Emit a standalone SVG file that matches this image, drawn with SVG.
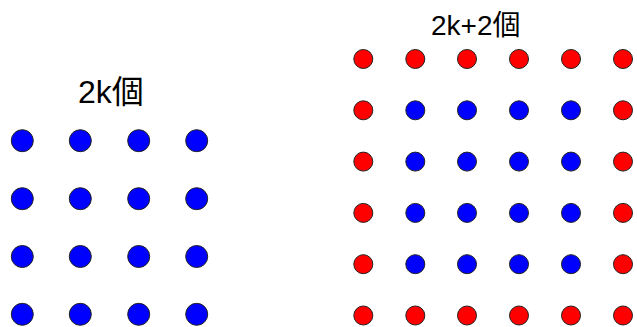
<svg xmlns="http://www.w3.org/2000/svg" width="637" height="327" viewBox="0 0 637 327">
<style>
.b{fill:#0000ff;stroke:#222;stroke-width:1}
.r{fill:#ff0000;stroke:#222;stroke-width:1}
.t{font-family:"Liberation Sans","Noto Sans CJK JP",sans-serif;fill:#000}
</style>
<rect width="637" height="327" fill="#fff"/>
<g id="label-left"><text class="t" x="78" y="103" font-size="32">2k個</text></g>
<g id="label-right"><text class="t" x="431" y="35" font-size="28">2k+2個</text></g>
<g id="left-grid">
<circle class="b" cx="22.3" cy="140.7" r="11"/><circle class="b" cx="80.3" cy="140.7" r="11"/><circle class="b" cx="138.7" cy="140.7" r="11"/><circle class="b" cx="196.7" cy="140.7" r="11"/>
<circle class="b" cx="22.3" cy="198.7" r="11"/><circle class="b" cx="80.3" cy="198.7" r="11"/><circle class="b" cx="138.7" cy="198.7" r="11"/><circle class="b" cx="196.7" cy="198.7" r="11"/>
<circle class="b" cx="22.3" cy="256.5" r="11"/><circle class="b" cx="80.3" cy="256.5" r="11"/><circle class="b" cx="138.7" cy="256.5" r="11"/><circle class="b" cx="196.7" cy="256.5" r="11"/>
<circle class="b" cx="22.3" cy="314.3" r="11"/><circle class="b" cx="80.3" cy="314.3" r="11"/><circle class="b" cx="138.7" cy="314.3" r="11"/><circle class="b" cx="196.7" cy="314.3" r="11"/>
</g>
<g id="right-grid">
<circle class="r" cx="363.3" cy="59" r="9.5"/><circle class="r" cx="415.3" cy="59" r="9.5"/><circle class="r" cx="467" cy="59" r="9.5"/><circle class="r" cx="519" cy="59" r="9.5"/><circle class="r" cx="571" cy="59" r="9.5"/><circle class="r" cx="623" cy="59" r="9.5"/>
<circle class="r" cx="363.3" cy="110.3" r="9.5"/><circle class="b" cx="415.3" cy="110.3" r="9.5"/><circle class="b" cx="467" cy="110.3" r="9.5"/><circle class="b" cx="519" cy="110.3" r="9.5"/><circle class="b" cx="571" cy="110.3" r="9.5"/><circle class="r" cx="623" cy="110.3" r="9.5"/>
<circle class="r" cx="363.3" cy="161.6" r="9.5"/><circle class="b" cx="415.3" cy="161.6" r="9.5"/><circle class="b" cx="467" cy="161.6" r="9.5"/><circle class="b" cx="519" cy="161.6" r="9.5"/><circle class="b" cx="571" cy="161.6" r="9.5"/><circle class="r" cx="623" cy="161.6" r="9.5"/>
<circle class="r" cx="363.3" cy="212.9" r="9.5"/><circle class="b" cx="415.3" cy="212.9" r="9.5"/><circle class="b" cx="467" cy="212.9" r="9.5"/><circle class="b" cx="519" cy="212.9" r="9.5"/><circle class="b" cx="571" cy="212.9" r="9.5"/><circle class="r" cx="623" cy="212.9" r="9.5"/>
<circle class="r" cx="363.3" cy="264.2" r="9.5"/><circle class="b" cx="415.3" cy="264.2" r="9.5"/><circle class="b" cx="467" cy="264.2" r="9.5"/><circle class="b" cx="519" cy="264.2" r="9.5"/><circle class="b" cx="571" cy="264.2" r="9.5"/><circle class="r" cx="623" cy="264.2" r="9.5"/>
<circle class="r" cx="363.3" cy="315.5" r="9.5"/><circle class="r" cx="415.3" cy="315.5" r="9.5"/><circle class="r" cx="467" cy="315.5" r="9.5"/><circle class="r" cx="519" cy="315.5" r="9.5"/><circle class="r" cx="571" cy="315.5" r="9.5"/><circle class="r" cx="623" cy="315.5" r="9.5"/>
</g>
</svg>
